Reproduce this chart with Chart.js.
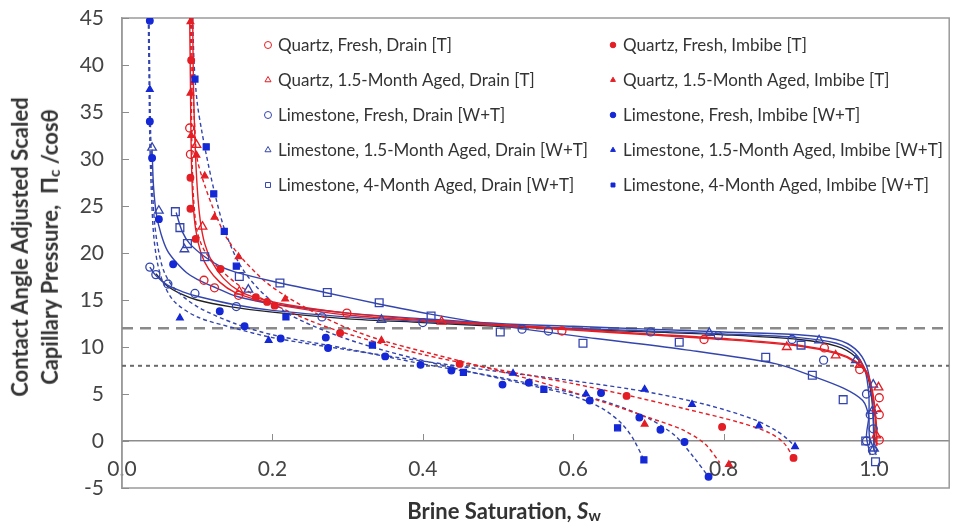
<!DOCTYPE html>
<html>
<head>
<meta charset="utf-8">
<script src="https://cdn.jsdelivr.net/npm/chart.js@4.4.0/dist/chart.umd.min.js"></script>
<style>
    body { margin: 0; background: #fff; }
    #wrap { position: relative; width: 956px; height: 523px; font-family: Lato, "Open Sans", sans-serif; color: #333; }
    #ytitle {
        position: absolute; left: 37px; top: 247px;
        transform: translate(-50%, -50%) rotate(-90deg);
        white-space: nowrap; text-align: center;
        font-weight: bold; font-size: 22px; line-height: 30px;
    }
    #xtitle {
        position: absolute; left: 504px; top: 497px;
        transform: translateX(-50%);
        white-space: nowrap; font-weight: bold; font-size: 22px;
    }
    sub { font-size: 70%; vertical-align: -0.15em; }
</style>
</head>
<body>
<div id="wrap">
    <canvas id="chart" width="956" height="523"></canvas>
    <div id="ytitle">Contact Angle Adjusted Scaled<br>Capillary Pressure,&nbsp; Π<sub>c</sub> /cosθ</div>
    <div id="xtitle">Brine Saturation, <i>S</i><sub>w</sub></div>
</div>
<script>
const xTicks = [0, 0.2, 0.4, 0.6, 0.8, 1.0];
const yTicks = [-5, 0, 5, 10, 15, 20, 25, 30, 35, 40, 45];
const refLevels = [12, 8];

// measured points [Sw, Pc/cos]
const quartzFreshDrain = [[0.090,33.3],[0.091,30.5],[0.109,17.1],[0.123,16.3],[0.155,15.5],[0.299,13.6],[0.585,11.7],[0.774,10.8],[0.934,9.9],[0.981,7.6],[1.007,4.6],[1.007,2.8],[1.007,0.1]];
const quartzAgedDrain = [[0.099,31.5],[0.107,22.8],[0.156,15.9],[0.425,12.7],[0.884,10.0],[0.949,9.1],[0.981,8.1],[1.006,5.7],[1.004,3.4],[1.003,0.6]];
const limeFreshDrain = [[0.037,18.5],[0.045,17.7],[0.061,16.7],[0.097,15.7],[0.152,14.3],[0.266,13.2],[0.400,12.6],[0.532,11.9],[0.567,11.7],[0.703,11.6],[0.793,11.2],[0.891,10.8],[0.933,8.6],[0.990,5.0],[0.995,2.8],[0.999,1.3],[0.990,0.0],[0.998,-1.0]];
const limeAgedDrain = [[0.040,31.2],[0.049,24.5],[0.083,20.4],[0.168,16.1],[0.345,12.9],[0.781,11.5],[0.927,10.7],[0.976,8.6],[0.999,6.0],[0.998,3.2],[1.000,-0.8]];
const lime4mDrain = [[0.071,24.4],[0.077,22.7],[0.087,21.0],[0.110,19.6],[0.156,17.5],[0.210,16.8],[0.273,15.8],[0.342,14.7],[0.411,13.3],[0.503,11.6],[0.613,10.4],[0.741,10.5],[0.856,8.9],[0.903,10.2],[0.918,7.0],[0.959,4.4],[0.989,0.0],[1.002,-2.2]];
const quartzFreshImbibe = [[0.092,40.5],[0.091,28.0],[0.091,24.7],[0.098,21.5],[0.131,18.3],[0.178,15.3],[0.193,14.8],[0.203,14.4],[0.290,11.5],[0.449,8.2],[0.671,4.8],[0.798,1.5],[0.893,-1.8]];
const quartzAgedImbibe = [[0.091,44.6],[0.091,37.0],[0.092,32.5],[0.099,30.4],[0.110,28.2],[0.123,23.8],[0.155,19.6],[0.217,15.1],[0.345,10.7],[0.695,1.8],[0.807,-2.5]];
const limeFreshImbibe = [[0.037,44.7],[0.037,34.0],[0.040,30.1],[0.049,23.6],[0.068,18.8],[0.130,13.8],[0.163,12.2],[0.211,10.9],[0.271,11.0],[0.274,9.9],[0.350,9.0],[0.397,8.1],[0.438,7.5],[0.506,6.0],[0.541,6.2],[0.622,4.3],[0.637,5.1],[0.688,2.5],[0.716,1.2],[0.748,-0.1],[0.780,-3.8]];
const limeAgedImbibe = [[0.037,37.4],[0.077,13.1],[0.195,10.7],[0.520,7.2],[0.617,5.0],[0.695,5.5],[0.758,3.9],[0.847,1.6],[0.895,-0.6]];
const lime4mImbibe = [[0.097,38.5],[0.112,31.3],[0.122,26.3],[0.136,22.3],[0.152,18.6],[0.218,13.2],[0.333,10.2],[0.454,7.3],[0.561,5.5],[0.659,1.4],[0.694,-2.0]];

// fitted curves
const quartzFreshDrainFit = [[0.090,45],[0.091,38],[0.092,31],[0.094,26],[0.098,22.5],[0.105,20],[0.115,18.3],[0.13,16.9],[0.15,15.8],[0.18,15.0],[0.22,14.3],[0.3,13.4],[0.4,12.8],[0.5,12.3],[0.6,11.8],[0.7,11.3],[0.8,10.8],[0.9,10.1],[0.95,9.3],[0.975,8.4],[0.99,7.2],[0.998,5],[1.002,2],[1.003,-0.5]];
const quartzAgedDrainFit = [[0.094,45],[0.095,38],[0.097,32],[0.1,27],[0.104,23.5],[0.11,21],[0.12,19],[0.135,17.3],[0.155,16.0],[0.18,15.2],[0.22,14.5],[0.3,13.6],[0.4,12.9],[0.5,12.4],[0.6,11.9],[0.7,11.4],[0.8,10.9],[0.9,10.2],[0.95,9.4],[0.975,8.5],[0.99,7.4],[0.998,5.3],[1.003,2],[1.004,-0.5]];
const limeFreshDrainFit = [[0.037,18.5],[0.045,17.6],[0.06,16.6],[0.08,15.9],[0.1,15.4],[0.15,14.5],[0.2,13.9],[0.3,13.2],[0.4,12.7],[0.5,12.3],[0.6,12.0],[0.7,11.7],[0.8,11.4],[0.9,11.0],[0.95,10.4],[0.975,9.3],[0.988,7.5],[0.993,5],[0.993,2.5],[0.99,0.5],[0.995,-1.5]];
const limeAgedDrainFit = [[0.040,31],[0.042,27],[0.046,24],[0.052,22],[0.06,20.3],[0.07,19.2],[0.086,17.9],[0.1,17.2],[0.125,16.3],[0.152,15.4],[0.2,14.6],[0.3,13.6],[0.4,13.0],[0.5,12.5],[0.6,12.2],[0.7,11.9],[0.8,11.6],[0.9,11.3],[0.95,10.8],[0.975,9.8],[0.99,8],[0.997,5],[0.999,2],[1.0,-1]];
const lime4mDrainFit = [[0.072,24.3],[0.08,22.3],[0.09,21.0],[0.11,19.6],[0.13,18.6],[0.15,18.0],[0.2,17.0],[0.27,15.8],[0.34,14.6],[0.41,13.5],[0.5,12.3],[0.63,10.9],[0.75,9.7],[0.87,8.2],[0.915,7.0],[0.96,5.6],[0.985,4.3],[0.993,2.6],[0.994,0.5],[1.003,-1.5]];
const quartzFreshImbibeFit = [[0.091,45],[0.092,38],[0.093,31],[0.095,26],[0.1,22.3],[0.11,20.2],[0.13,18.3],[0.16,16.3],[0.2,14.6],[0.25,12.8],[0.3,11.4],[0.4,9.2],[0.5,7.6],[0.6,6.1],[0.67,4.9],[0.75,3.4],[0.82,2.0],[0.86,0.9],[0.88,-0.2],[0.893,-1.8]];
const quartzAgedImbibeFit = [[0.092,45],[0.094,38],[0.097,33],[0.1,30],[0.11,27.2],[0.125,24],[0.14,21.5],[0.16,19.4],[0.19,17],[0.22,15.3],[0.26,13.5],[0.3,12.0],[0.35,10.6],[0.45,8.5],[0.55,6.4],[0.63,4.4],[0.7,2.5],[0.745,1.2],[0.775,-0.3],[0.795,-2.3]];
const limeFreshImbibeFit = [[0.036,45],[0.037,38],[0.038,33],[0.04,28],[0.043,23.5],[0.048,20.5],[0.056,18],[0.07,16.2],[0.1,14.3],[0.15,12.5],[0.2,11.3],[0.3,9.8],[0.4,8.2],[0.5,6.8],[0.6,5.1],[0.65,4.0],[0.7,2.4],[0.735,0.6],[0.76,-1.7],[0.78,-3.8]];
const limeAgedImbibeFit = [[0.035,45],[0.036,38],[0.037,32],[0.039,26.5],[0.042,22],[0.047,19],[0.055,16.8],[0.07,14.8],[0.1,13.2],[0.15,12],[0.2,11],[0.3,9.7],[0.4,8.5],[0.5,7.4],[0.6,6.4],[0.7,5.2],[0.78,3.8],[0.84,2.3],[0.87,1.1],[0.885,0.2],[0.895,-0.6]];
const lime4mImbibeFit = [[0.094,45],[0.096,40],[0.1,36],[0.106,33],[0.112,30.5],[0.122,26.8],[0.136,22.6],[0.155,19.0],[0.18,16.3],[0.22,13.6],[0.28,11.4],[0.35,9.6],[0.45,7.6],[0.55,5.8],[0.6,4.8],[0.64,3.4],[0.665,1.8],[0.68,0.2],[0.694,-2.0]];
const blackFit = [[0.045,17.8],[0.06,16.5],[0.08,15.6],[0.1,15.0],[0.143,14.3],[0.2,13.7],[0.3,13.0],[0.4,12.6],[0.5,12.2],[0.6,11.9],[0.7,11.6],[0.8,11.3],[0.9,10.8],[0.95,10.1],[0.975,9.0],[0.99,7.3],[0.997,4.5],[1.0,1.5],[1.0,-0.3]];

const RED = "#e41e25";
const BLUE = "#1428d6";
const BLUE_LINE = "#3446ae";

const series = [
    { label: "Quartz, Fresh, Drain [T]", data: quartzFreshDrain, fit: quartzFreshDrainFit, color: RED, line: RED, style: "circle", open: true },
    { label: "Quartz, 1.5-Month Aged, Drain [T]", data: quartzAgedDrain, fit: quartzAgedDrainFit, color: RED, line: RED, style: "triangle", open: true },
    { label: "Limestone, Fresh, Drain [W+T]", data: limeFreshDrain, fit: limeFreshDrainFit, color: BLUE_LINE, line: BLUE_LINE, style: "circle", open: true },
    { label: "Limestone, 1.5-Month Aged, Drain [W+T]", data: limeAgedDrain, fit: limeAgedDrainFit, color: BLUE_LINE, line: BLUE_LINE, style: "triangle", open: true },
    { label: "Limestone, 4-Month Aged, Drain [W+T]", data: lime4mDrain, fit: lime4mDrainFit, color: BLUE_LINE, line: BLUE_LINE, style: "rect", open: true },
    { label: "Quartz, Fresh, Imbibe [T]", data: quartzFreshImbibe, fit: quartzFreshImbibeFit, color: RED, line: RED, style: "circle", open: false },
    { label: "Quartz, 1.5-Month Aged, Imbibe [T]", data: quartzAgedImbibe, fit: quartzAgedImbibeFit, color: RED, line: RED, style: "triangle", open: false },
    { label: "Limestone, Fresh, Imbibe [W+T]", data: limeFreshImbibe, fit: limeFreshImbibeFit, color: BLUE, line: BLUE_LINE, style: "circle", open: false },
    { label: "Limestone, 1.5-Month Aged, Imbibe [W+T]", data: limeAgedImbibe, fit: limeAgedImbibeFit, color: BLUE, line: BLUE_LINE, style: "triangle", open: false },
    { label: "Limestone, 4-Month Aged, Imbibe [W+T]", data: lime4mImbibe, fit: lime4mImbibeFit, color: BLUE, line: BLUE_LINE, style: "rect", open: false }
];

const radius = { circle: [4, 3.3], triangle: [5, 3.8], rect: [5.5, 4.2] };

function xy(arr) {
    return arr.map(p => ({ x: p[0], y: p[1] }));
}

const datasets = [];
series.forEach(s => {
    datasets.push({
        label: s.label,
        data: xy(s.data),
        showLine: false,
        pointStyle: s.style,
        pointRadius: radius[s.style][s.open ? 0 : 1],
        pointBorderWidth: 1.3,
        pointBackgroundColor: s.open ? "rgba(0,0,0,0)" : s.color,
        pointBorderColor: s.color,
        order: 0
    });
    datasets.push({
        label: s.label + " fit",
        data: xy(s.fit),
        showLine: true,
        pointRadius: 0,
        borderColor: s.line,
        borderWidth: 1.4,
        borderDash: s.open ? [] : [4, 3],
        tension: 0.3,
        order: 5
    });
});
datasets.push({
    label: "fit",
    data: xy(blackFit),
    showLine: true,
    pointRadius: 0,
    borderColor: "#222",
    borderWidth: 1.3,
    tension: 0.3,
    order: 6
});
refLevels.forEach((v, i) => {
    datasets.push({
        label: "ref " + v,
        data: [{ x: 0, y: v }, { x: 1.1, y: v }],
        showLine: true,
        pointRadius: 0,
        borderColor: i == 0 ? "#8a8a8a" : "#6a6a6a",
        borderWidth: i == 0 ? 2.5 : 2,
        borderDash: i == 0 ? [11, 7] : [4, 4],
        order: 10
    });
});

const framePlugin = {
    id: "frame",
    beforeDatasetsDraw(chart) {
        const { ctx, chartArea: a, scales } = chart;
        ctx.save();
        ctx.strokeStyle = "#9a9a9a";
        ctx.lineWidth = 1.5;
        ctx.strokeRect(a.left, a.top, a.right - a.left, a.bottom - a.top);
        // inner tick marks
        ctx.strokeStyle = "#8c8c8c";
        ctx.lineWidth = 1;
        yTicks.forEach(v => {
            const y = Math.round(scales.y.getPixelForValue(v)) + 0.5;
            ctx.beginPath();
            ctx.moveTo(a.left, y);
            ctx.lineTo(a.left + 7, y);
            ctx.stroke();
        });
        const y0 = scales.y.getPixelForValue(0);
        xTicks.slice(1).forEach(v => {
            const x = Math.round(scales.x.getPixelForValue(v)) + 0.5;
            ctx.beginPath();
            ctx.moveTo(x, y0);
            ctx.lineTo(x, y0 - 7);
            ctx.stroke();
        });
        ctx.restore();
    }
};

const legendPlugin = {
    id: "innerLegend",
    afterDraw(chart) {
        const { ctx, chartArea: a } = chart;
        ctx.save();
        ctx.font = "17px Lato, 'Open Sans', sans-serif";
        ctx.textBaseline = "middle";
        series.forEach((s, i) => {
            const col = i < 5 ? 0 : 1;
            const row = i % 5;
            const mx = a.left + (col == 0 ? 146 : 491);
            const my = a.top + 27 + row * 35;
            ctx.fillStyle = s.open ? "rgba(0,0,0,0)" : s.color;
            ctx.strokeStyle = s.color;
            ctx.lineWidth = 1;
            Chart.helpers.drawPoint(ctx, { pointStyle: s.style, radius: s.open ? 3.5 : 2.8, borderWidth: 1, rotation: 0 }, mx, my);
            ctx.fillStyle = "#333";
            ctx.fillText(s.label, mx + 10, my + 1);
        });
        ctx.restore();
    }
};

new Chart(document.getElementById("chart").getContext("2d"), {
    type: "scatter",
    data: { datasets: datasets },
    options: {
        responsive: false,
        animation: false,
        devicePixelRatio: 1,
        layout: { padding: { top: 18, right: 1, bottom: 35, left: 0 } },
        plugins: { legend: { display: false }, tooltip: { enabled: false } },
        scales: {
            x: {
                type: "linear",
                position: { y: 0 },
                min: 0,
                max: 1.1,
                afterBuildTicks: scale => { scale.ticks = xTicks.map(v => ({ value: v })); },
                ticks: {
                    callback: v => v.toFixed(1),
                    font: { size: 21, family: "Lato, 'Open Sans', sans-serif" },
                    color: "#444",
                    padding: 16,
                    maxRotation: 0
                },
                grid: { display: false, drawTicks: false },
                border: { display: true, color: "#8c8c8c", width: 1.5 }
            },
            y: {
                type: "linear",
                position: "left",
                min: -5,
                max: 45,
                afterBuildTicks: scale => { scale.ticks = yTicks.map(v => ({ value: v })); },
                afterFit: scale => {
                    scale.width = 122;
                    scale.paddingTop = 0;
                    scale.paddingBottom = 0;
                },
                ticks: {
                    font: { size: 21, family: "Lato, 'Open Sans', sans-serif" },
                    color: "#444",
                    padding: 18
                },
                grid: { display: false, drawTicks: false },
                border: { display: true, color: "#9a9a9a", width: 1.5 }
            }
        }
    },
    plugins: [framePlugin, legendPlugin]
});
</script>
</body>
</html>
